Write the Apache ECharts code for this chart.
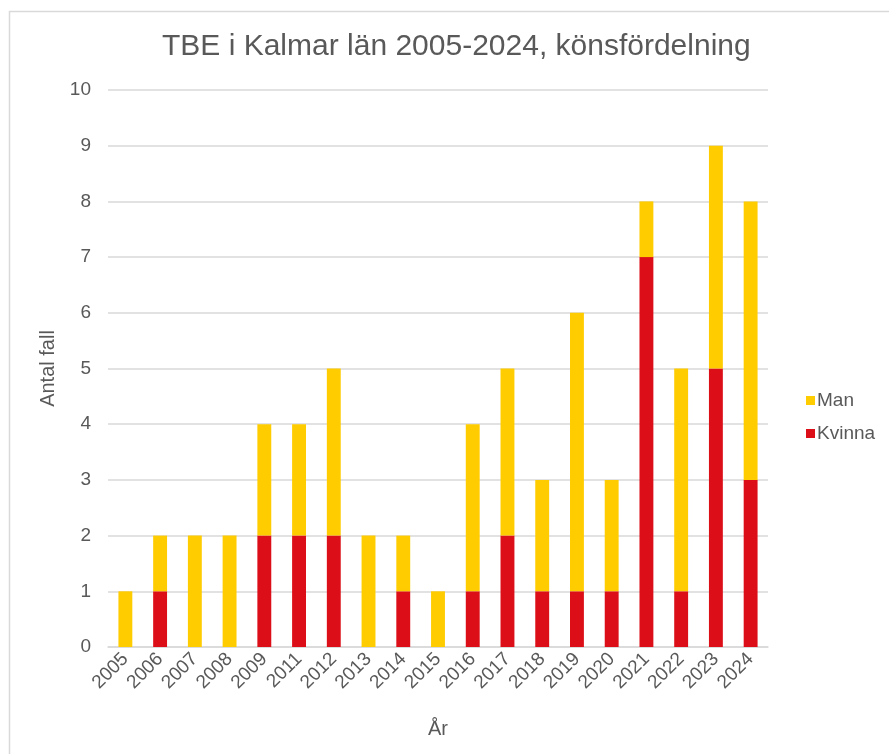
<!DOCTYPE html>
<html><head><meta charset="utf-8">
<script src="https://cdn.jsdelivr.net/npm/echarts@6/dist/echarts.min.js"></script>
<style>html,body{margin:0;padding:0;background:#fff}#c{width:889px;height:754px}</style>
</head><body><div id="c"></div>
<script>
const years = ['2005','2006','2007','2008','2009','2011','2012','2013','2014','2015','2016','2017','2018','2019','2020','2021','2022','2023','2024'];
const kvinna = [0,1,0,0,2,2,2,0,1,0,1,2,1,1,1,7,1,5,3];
const man    = [1,1,2,2,2,2,3,2,1,1,3,3,2,5,2,1,4,4,5];
const yTicks = [0,1,2,3,4,5,6,7,8,9,10];

const FONT = '"Liberation Sans", Arial, sans-serif';
const TXT = '#595959';
const chart = echarts.init(document.getElementById('c'), null, {renderer:'canvas'});
chart.setOption({
  animation:false,
  backgroundColor:'#fff',
  graphic:[{type:'rect',shape:{x:9.5,y:11.5,width:900,height:800},style:{fill:'none',stroke:'#d9d9d9',lineWidth:1.5},silent:true}],
  title:{text:'TBE i Kalmar län 2005-2024, könsfördelning',left:157,top:27,
    textStyle:{fontFamily:FONT,fontSize:30,fontWeight:'normal',color:TXT}},
  legend:{orient:'vertical',left:801,top:386,itemGap:14,itemWidth:9,itemHeight:9,icon:'rect',
    data:['Man','Kvinna'],textStyle:{fontFamily:FONT,fontSize:19,color:TXT,padding:[0,0,0,-3]}},
  grid:{left:108,right:121,top:90,bottom:107},
  xAxis:{type:'category',data:years,name:'År',nameLocation:'middle',nameGap:72,
    nameTextStyle:{fontFamily:FONT,fontSize:20,color:TXT},
    axisLine:{lineStyle:{color:'#d9d9d9',width:1.5}},axisTick:{show:false},
    axisLabel:{rotate:45,fontFamily:FONT,fontSize:19,color:TXT,margin:9,interval:0}},
  yAxis:{type:'value',min:yTicks[0],max:yTicks[yTicks.length-1],interval:1,name:'Antal fall',nameLocation:'middle',nameGap:48,
    nameTextStyle:{fontFamily:FONT,fontSize:20,color:TXT},
    axisLine:{show:false},axisTick:{show:false},
    splitLine:{lineStyle:{color:'#d9d9d9',width:1.5}},
    axisLabel:{fontFamily:FONT,fontSize:19,color:TXT,margin:17}},
  series:[
    {name:'Kvinna',type:'bar',stack:'t',data:kvinna,barWidth:'40%',itemStyle:{color:'#DC0E17'}},
    {name:'Man',type:'bar',stack:'t',data:man,barWidth:'40%',itemStyle:{color:'#FFCC00'}}
  ]
});
</script></body></html>
